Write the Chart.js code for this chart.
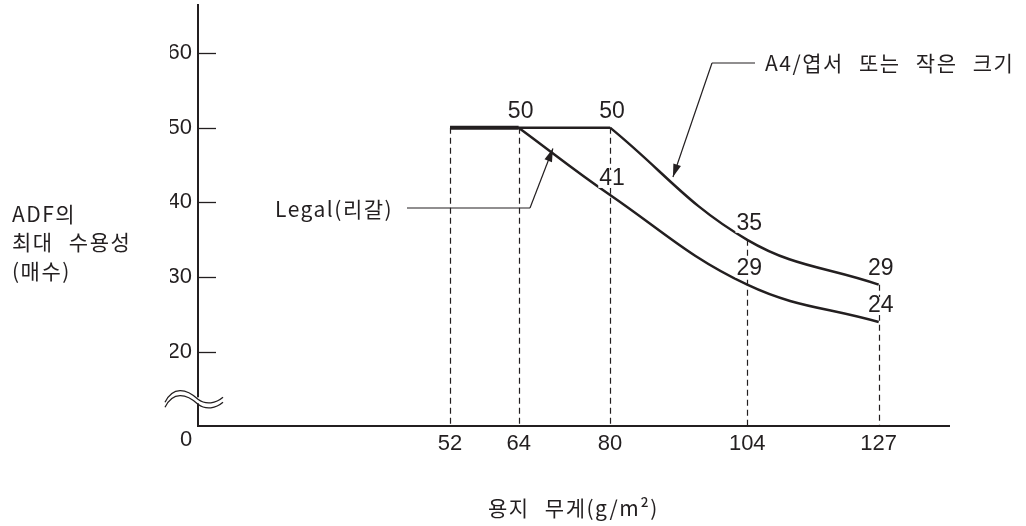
<!DOCTYPE html>
<html>
<head>
<meta charset="utf-8">
<script src="https://cdn.jsdelivr.net/npm/chart.js@4.4.1/dist/chart.umd.min.js"></script>
<style>
  html, body { margin: 0; padding: 0; background: #fff; }
</style>
</head>
<body>
<canvas id="chart" width="1026" height="526"></canvas>
<script>
// paper weight (g/m2) and max sheets the ADF takes
const weights = [52, 64, 80, 104, 127];
const a4Sheets = [50, 50, 50, 35, 29];
const legalSheets = [50, 50, 41, 29, 24];
const yTicks = [20, 30, 40, 50, 60];
// where the numbers are written on each curve
const a4LabelAt = [80, 104, 127];
const legalLabelAt = [64, 80, 104, 127];

const a4Name = 'A4/엽서 또는 작은 크기';
const legalName = 'Legal(리갈)';
const yTitle = ['ADF의', '최대 수용성', '(매수)'];
const xTitle = '용지 무게(g/m²)';

const INK = '#231f20';
const NUM_FONT = '"Liberation Sans", Arial, sans-serif';
const KR_FONT = '"Noto Sans CJK KR", "Noto Sans", sans-serif';

function points(vals, from, to) {
  const out = [];
  for (let i = from; i <= to; i++) out.push({x: weights[i], y: vals[i]});
  return out;
}
// last index of the flat top part
function kneeOf(vals) {
  let k = 0;
  while (k + 1 < vals.length && vals[k + 1] === vals[0]) k++;
  return k;
}
const a4Knee = kneeOf(a4Sheets);
const legalKnee = kneeOf(legalSheets);
const last = weights.length - 1;

function lineSet(label, data, width, tension) {
  return {label, data, borderColor: INK, borderWidth: width, tension,
          pointRadius: 0, fill: false, borderCapStyle: 'butt'};
}

function arrow(ctx, x0, y0, x1, y1) {
  ctx.beginPath(); ctx.moveTo(x0, y0); ctx.lineTo(x1, y1); ctx.stroke();
  const a = Math.atan2(y1 - y0, x1 - x0), len = 13, hw = 4;
  ctx.beginPath();
  ctx.moveTo(x1, y1);
  ctx.lineTo(x1 - len * Math.cos(a) + hw * Math.sin(a), y1 - len * Math.sin(a) - hw * Math.cos(a));
  ctx.lineTo(x1 - len * Math.cos(a) - hw * Math.sin(a), y1 - len * Math.sin(a) + hw * Math.cos(a));
  ctx.closePath(); ctx.fill();
}

const extras = {
  id: 'extras',
  beforeDatasetsDraw(chart) {
    const {ctx, chartArea, scales: {x, y}} = chart;
    ctx.save();
    ctx.strokeStyle = INK; ctx.lineWidth = 1.2; ctx.setLineDash([6, 4]);
    weights.forEach((w, i) => {
      const top = Math.max(a4Sheets[i], legalSheets[i]);
      const px = Math.round(x.getPixelForValue(w)) + 0.5;
      ctx.beginPath();
      ctx.moveTo(px, y.getPixelForValue(top));
      ctx.lineTo(px, chartArea.bottom);
      ctx.stroke();
    });
    ctx.restore();
  },
  afterDatasetsDraw(chart) {
    const {ctx, chartArea, scales: {x, y}} = chart;
    const L = chartArea.left, B = chartArea.bottom;
    ctx.save();

    // inward tick marks on y
    ctx.strokeStyle = INK; ctx.lineWidth = 1.3;
    yTicks.forEach(v => {
      const py = Math.round(y.getPixelForValue(v)) + 0.5;
      ctx.beginPath(); ctx.moveTo(L, py); ctx.lineTo(L + 18, py); ctx.stroke();
    });

    // axis break
    const yb = y.getPixelForValue(13.8);
    const wave = (off) => {
      ctx.moveTo(L - 33, yb + 4 + off);
      ctx.bezierCurveTo(L - 25, yb - 12 + off, L - 12, yb - 10 + off, L, yb + 1 + off);
      ctx.bezierCurveTo(L + 8, yb + 7 + off, L + 18, yb + 5 + off, L + 25, yb - 1 + off);
    };
    ctx.fillStyle = '#fff';
    ctx.fillRect(L - 3, yb - 1, 6, 6);
    ctx.lineWidth = 1.3;
    ctx.beginPath(); wave(0); ctx.stroke();
    ctx.beginPath(); wave(5); ctx.stroke();

    // value labels
    ctx.font = '23px ' + NUM_FONT;
    ctx.textAlign = 'center'; ctx.textBaseline = 'middle';
    const label = (w, vals) => {
      const v = vals[weights.indexOf(w)];
      const px = x.getPixelForValue(w) + 2, py = y.getPixelForValue(v) - 16;
      const t = String(v), tw = ctx.measureText(t).width;
      ctx.fillStyle = '#fff'; ctx.fillRect(px - tw / 2 - 1, py - 9, tw + 2, 18);
      ctx.fillStyle = INK; ctx.fillText(t, px, py);
    };
    a4LabelAt.forEach(w => label(w, a4Sheets));
    legalLabelAt.forEach(w => label(w, legalSheets));

    // "0" at the corner
    ctx.font = '22px ' + NUM_FONT;
    ctx.fillText('0', L - 12, B + 14);

    // titles and series names
    ctx.font = '21px ' + KR_FONT;
    ctx.letterSpacing = '1.5px';
    ctx.wordSpacing = '9px';
    ctx.textAlign = 'left';
    yTitle.forEach((t, i) => ctx.fillText(t, 12, 214 + i * 28.5));
    ctx.fillText(a4Name, 765, 63);
    ctx.fillText(legalName, 275, 209);
    ctx.textAlign = 'center';
    ctx.fillText(xTitle, (chartArea.left + chartArea.right) / 2, 508);
    ctx.letterSpacing = '0px';
    ctx.wordSpacing = '0px';

    // leaders
    ctx.lineWidth = 1.2; ctx.fillStyle = INK;
    ctx.beginPath(); ctx.moveTo(712, 63); ctx.lineTo(755, 63); ctx.stroke();
    arrow(ctx, 712, 63, x.getPixelForValue(91), y.getPixelForValue(43.4));
    ctx.beginPath(); ctx.moveTo(407, 208); ctx.lineTo(530, 208); ctx.stroke();
    arrow(ctx, 530, 208, x.getPixelForValue(70), y.getPixelForValue(47.2));

    ctx.restore();
  }
};

new Chart(document.getElementById('chart'), {
  type: 'line',
  data: {
    datasets: [
      lineSet(a4Name, points(a4Sheets, 0, a4Knee), 2.5, 0),
      lineSet(a4Name, points(a4Sheets, a4Knee, last), 2.5, 0.4),
      lineSet(legalName, points(legalSheets, 0, legalKnee), 4, 0),
      lineSet(legalName, points(legalSheets, legalKnee, last), 2.5, 0.4)
    ]
  },
  options: {
    responsive: false,
    animation: false,
    events: [],
    layout: {padding: {left: 170, right: 77, top: 5, bottom: 0}},
    plugins: {legend: {display: false}, tooltip: {enabled: false}},
    scales: {
      x: {
        type: 'linear', min: 7.9, max: 139.3,
        afterBuildTicks: s => { s.ticks = weights.map(v => ({value: v})); },
        afterFit: s => { s.height = 100; s.paddingLeft = 0; s.paddingRight = 0; },
        grid: {display: false, drawTicks: false},
        border: {display: true, color: INK, width: 2},
        ticks: {color: INK, font: {family: NUM_FONT, size: 22}, padding: 5,
                maxRotation: 0, autoSkip: false, callback: v => String(v)}
      },
      y: {
        type: 'linear', min: 10.1, max: 66.4,
        afterBuildTicks: s => { s.ticks = yTicks.map(v => ({value: v})); },
        afterFit: s => { s.width = 28; s.paddingTop = 0; s.paddingBottom = 0; },
        grid: {display: false, drawTicks: false},
        border: {display: true, color: INK, width: 2},
        ticks: {color: INK, font: {family: NUM_FONT, size: 22}, padding: 6,
                autoSkip: false, callback: v => String(v)}
      }
    }
  },
  plugins: [extras]
});
</script>
</body>
</html>
